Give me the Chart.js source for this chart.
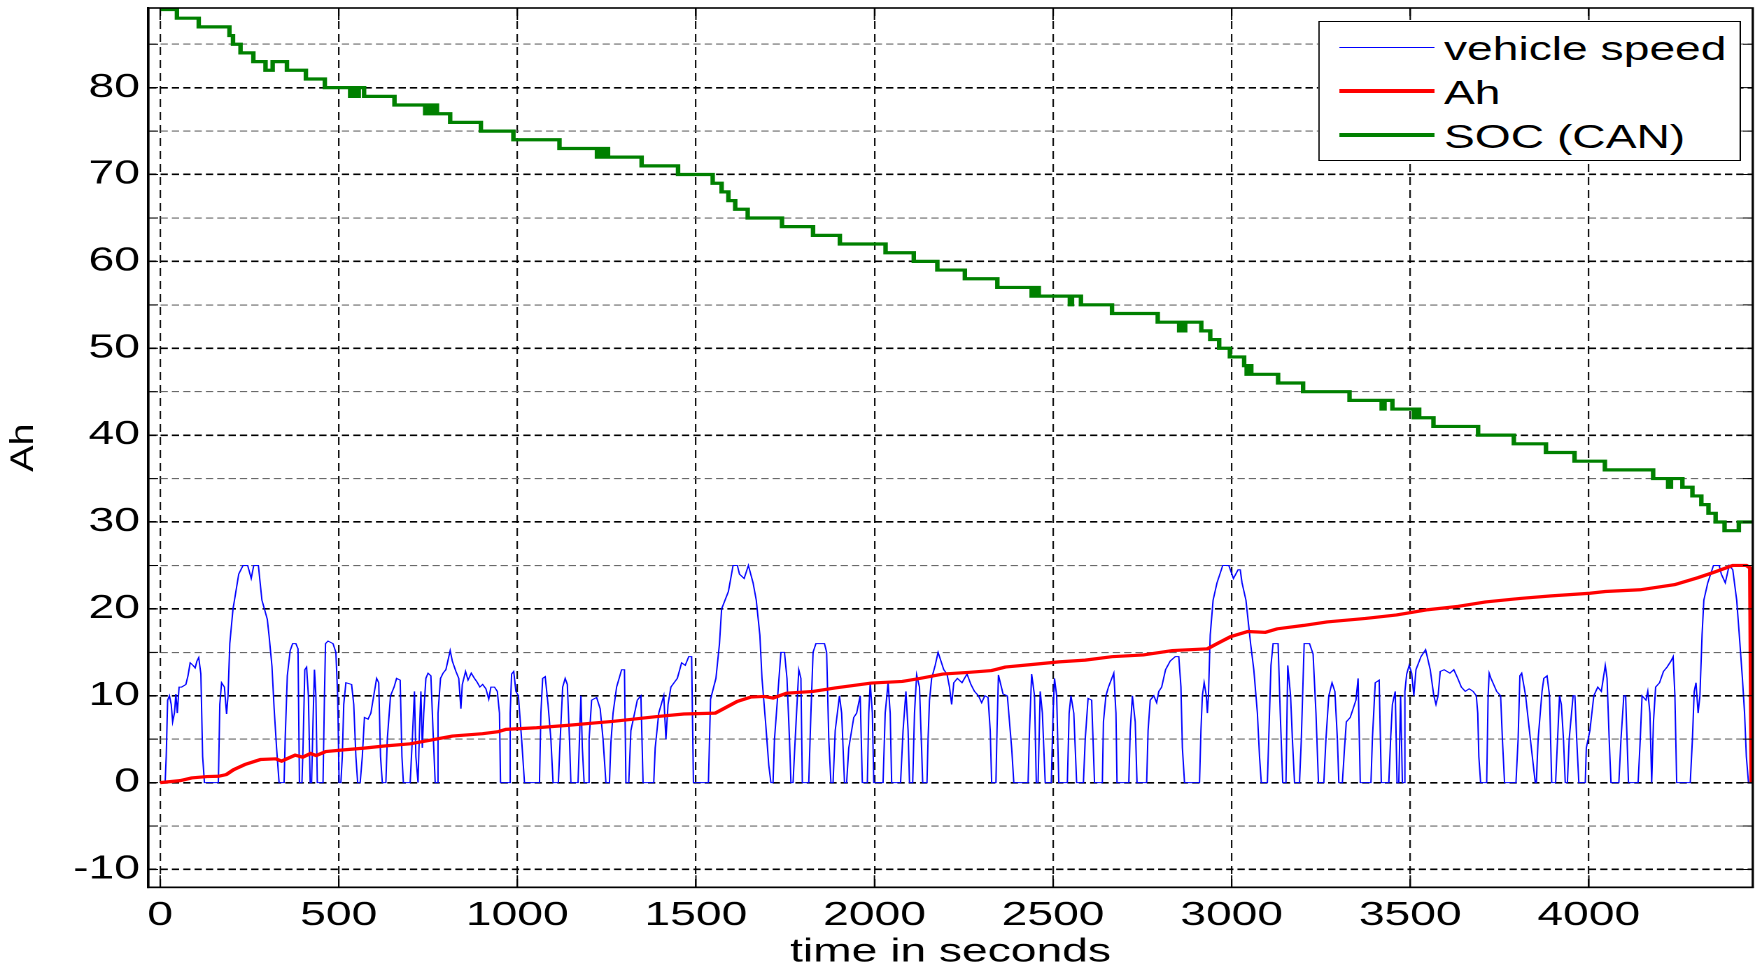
<!DOCTYPE html>
<html>
<head>
<meta charset="utf-8">
<title>vehicle speed, Ah, SOC</title>
<script src="https://cdn.jsdelivr.net/npm/chart.js@4.4.1/dist/chart.umd.min.js"></script>
<style>
  html, body { margin: 0; padding: 0; background: #fff; overflow: hidden; }
  /* the original figure uses a wide font, so the whole plot is drawn narrower and stretched */
  #wrap { position: absolute; left: 0; top: 0; width: 1254px; height: 969px; transform: scaleX(1.39952); transform-origin: 0 0; }
  #legend { position: absolute; left: 941.8px; top: 21px; width: 300px; height: 138px; border: 1px solid #000; background: #fff;
            font-family: "Liberation Sans", Arial, sans-serif; font-size: 33px; color: #000; }
  .row { position: absolute; left: 0; width: 100%; height: 44px; }
  .swatch { position: absolute; left: 14px; width: 68px; }
  .label { position: absolute; left: 89px; top: 0; line-height: 44px; white-space: nowrap; }
</style>
</head>
<body>
<div id="wrap">
  <canvas id="myChart"></canvas>
  <div id="legend"></div>
</div>
<script>
var S = 1755 / 1254;

// axis ticks
var xTicks = [0, 500, 1000, 1500, 2000, 2500, 3000, 3500, 4000];
var yTicks = [-10, 0, 10, 20, 30, 40, 50, 60, 70, 80];
var yGrid = [-10, -5, 0, 5, 10, 15, 20, 25, 30, 35, 40, 45, 50, 55, 60, 65, 70, 75, 80, 85];

// vehicle speed [time, value]
var speed = [
  [0,0],[14,0],[17,3],[21,9.5],[26,10],[31,9],[35,7],[40,8],[44,10.2],[48,8],[53,11],[60,11],[72,11.3],[78,12.3],[84,13.8],[92,13.5],[98,13.2],[103,14],[108,14.4],[114,12.5],[119,3],[124,0],
  [163,0],[167,9],[172,11.5],[180,11],[186,7.9],[190,10],[195,16],[204,20],[212,22],[220,24],[232,25],[245,25],[255,23.5],[262,25],[275,25],[285,21],[300,18.8],[305,16.9],[313,13.4],[319,8.6],[326,4],[333,0],
  [347,0],[350,5],[356,12.3],[364,15.2],[371,16],[380,16],[386,15.4],[390,0],
  [397,0],[400,4],[405,13],[410,13.3],[415,10],[420,0],
  [424,0],[428,7],[432,13],[436,10],[440,0],
  [456,0],[460,10],[463,16],[470,16.3],[484,16],[492,15],[497,10],[501,0],
  [506,0],[510,3],[514,9],[520,11.5],[536,11.3],[542,9],[548,3],[553,0],
  [560,0],[566,3],[572,7.5],[582,7.3],[590,8],[598,10],[606,12],[612,11.5],[617,3],[622,0],
  [632,0],[636,5],[645,10],[655,11],[662,12],[672,11.8],[677,3],[681,0],
  [700,0],[706,5],[712,10.5],[716,3],[722,0],[726,6],[730,10.5],[734,4],[738,8],[744,12],[750,12.6],[758,12.3],[764,6],[770,0],
  [775,0],[778,8],[785,12],[792,12.6],[800,13],[812,15.2],[818,14],[828,12.8],[836,12],[842,8.5],[846,11.3],[855,12.8],[862,11.8],[871,12.6],[880,12],[887,11.6],[895,11],[903,11.3],[912,10.8],[920,9.6],[926,11],[936,11],[944,10.5],[950,8],[953,0],
  [978,0],[980,8],[984,12.5],[990,12.8],[996,10.5],[1003,10],[1012,5],[1020,0],
  [1062,0],[1066,8],[1071,12],[1078,12.2],[1086,9],[1094,5],[1100,0],
  [1115,0],[1120,5],[1127,11],[1134,12],[1140,11.3],[1146,5],[1150,0],
  [1170,0],[1174,5],[1178,10],[1182,4],[1187,0],
  [1198,0],[1201,5],[1208,9.5],[1222,9.8],[1232,8.5],[1240,5],[1248,0],
  [1258,0],[1262,4.6],[1268,8],[1278,11],[1292,13],[1300,13],[1304,0],
  [1312,0],[1318,6],[1336,9.5],[1346,10],[1352,0],
  [1382,0],[1386,4],[1396,8],[1410,10],[1416,5],[1422,9],[1430,11],[1448,12],[1460,13.8],[1470,13.5],[1480,14.5],[1488,14.5],[1493,0],
  [1535,0],[1541,9.6],[1556,12],[1566,16],[1572,20],[1591,22],[1604,25],[1616,25],[1622,24],[1635,23.5],[1647,25],[1660,23],[1669,21],[1679,17],[1685,12],[1695,7],[1704,2],[1710,0],
  [1716,0],[1720,5],[1729,10],[1738,15],[1748,15],[1755,12],[1762,5],[1766,0],
  [1772,0],[1778,5],[1788,13],[1794,12],[1798,0],
  [1816,0],[1822,8],[1828,15],[1836,16],[1860,16],[1866,15],[1872,5],[1878,0],
  [1884,0],[1890,6],[1902,10],[1908,8],[1916,0],
  [1922,0],[1928,4],[1942,7.5],[1950,8],[1960,10],[1966,0],
  [1980,0],[1984,8],[1988,11.5],[1994,8],[1998,0],
  [2024,0],[2030,8],[2038,11.5],[2044,8],[2048,0],
  [2073,0],[2080,6],[2088,10.5],[2094,6],[2098,0],
  [2107,0],[2112,8],[2118,12.4],[2126,11],[2131,5],[2135,0],
  [2147,0],[2150,5],[2154,9.5],[2160,12],[2170,13.5],[2178,15],[2186,14],[2194,13],[2203,12.5],[2210,11],[2216,9],[2222,11.5],[2232,12],[2245,11.5],[2259,12.5],[2270,11.3],[2280,10.5],[2291,10],[2300,9.2],[2309,10],[2318,9.8],[2324,6],[2328,0],
  [2340,0],[2343,6],[2347,12.4],[2360,10.2],[2372,10],[2384,4],[2390,0],
  [2430,0],[2434,6],[2440,12.5],[2448,10],[2453,0],
  [2458,0],[2464,10.5],[2470,8],[2478,0],
  [2495,0],[2500,8],[2504,12],[2510,10],[2516,0],
  [2540,0],[2545,8],[2550,10],[2558,8],[2566,0],
  [2585,0],[2590,5],[2598,9.7],[2608,9.5],[2616,0],
  [2638,0],[2641,7],[2648,10],[2655,11],[2670,12.6],[2676,8],[2679,0],
  [2712,0],[2716,6],[2722,10],[2730,7],[2735,0],
  [2762,0],[2766,6],[2772,9.5],[2782,10],[2790,9.2],[2796,10.5],[2804,11],[2815,13],[2828,14],[2842,14.5],[2852,14.5],[2858,11],[2862,4],[2868,0],
  [2910,0],[2914,6],[2918,10],[2923,11.5],[2929,10],[2932,8],[2935,10],[2940,17],[2948,21],[2959,23],[2975,25],[2992,25],[3005,23.5],[3018,24.5],[3024,24.5],[3029,23],[3040,21],[3053,16],[3062,13],[3072,8],[3078,3],[3083,0],
  [3100,0],[3103,4],[3110,13.5],[3116,16],[3130,16],[3136,8],[3143,0],
  [3152,0],[3157,13.5],[3165,10],[3170,5],[3176,0],
  [3190,0],[3195,5],[3203,16],[3218,16],[3228,14.8],[3236,8],[3243,0],
  [3258,0],[3264,5],[3272,10],[3281,11.5],[3289,10.5],[3296,5],[3300,0],
  [3310,0],[3316,4],[3321,7],[3332,7.5],[3348,9.5],[3354,12],[3360,0],
  [3390,0],[3394,5],[3402,11.5],[3413,11.8],[3419,0],
  [3440,0],[3445,5],[3450,9],[3458,10.5],[3463,0],[3468,0],[3473,10],[3478,0],
  [3482,0],[3485,10.5],[3490,12.5],[3497,13.5],[3504,12.6],[3510,10],[3516,13],[3530,14.5],[3543,15.3],[3556,13],[3566,10],[3572,9],[3578,10],[3584,12.8],[3595,13],[3611,12.6],[3622,13],[3633,12],[3643,11],[3654,10.5],[3665,10.8],[3676,10.5],[3685,10],[3689,8],[3692,3],[3697,0],
  [3714,0],[3718,10],[3721,12.6],[3726,12],[3742,10.5],[3753,10],[3758,5],[3764,0],
  [3796,0],[3802,5],[3807,12.3],[3812,12.6],[3823,10],[3839,4],[3850,0],
  [3853,0],[3858,5],[3869,10.5],[3874,12],[3883,12.3],[3890,10],[3896,0],
  [3907,0],[3918,10],[3923,9],[3929,5],[3934,0],
  [3940,0],[3945,5],[3956,10],[3961,10],[3966,5],[3972,0],
  [3990,0],[3993,4],[4003,6],[4014,10],[4025,11],[4035,10.5],[4046,13.5],[4051,12],[4057,5],[4062,0],
  [4084,0],[4090,5],[4098,10],[4103,10],[4111,0],
  [4138,0],[4144,5],[4149,10],[4160,9.5],[4165,10.5],[4171,8],[4176,0],
  [4178,0],[4181,7],[4187,11],[4198,11.5],[4209,12.8],[4219,13.3],[4230,14],[4236,14.5],[4241,10],[4246,0],
  [4284,0],[4290,5],[4295,10.5],[4300,11.5],[4306,8],[4311,10],[4317,17],[4322,21],[4333,23],[4349,25],[4365,25],[4371,24],[4382,23],[4393,25],[4403,24.5],[4414,21],[4423,16],[4430,12],[4436,8],[4441,3],[4447,0],[4459,0]
];

// Ah [time, value]
var ah = [
  [0,0],[56,0.23],[88,0.54],[131,0.7],[163,0.73],[185,0.92],[206,1.5],[238,2.1],[281,2.66],[324,2.74],[340,2.47],[378,3.16],[399,2.93],[421,3.35],[437,3.12],[464,3.58],
  [506,3.74],[571,3.97],[624,4.2],[700,4.47],[743,4.78],[818,5.36],[903,5.63],[946,5.86],[968,6.13],[1054,6.32],[1140,6.59],[1225,6.9],[1266,7.04],[1391,7.6],[1466,7.9],
  [1554,8.0],[1616,9.35],[1654,9.85],[1691,9.92],[1716,9.73],[1754,10.3],[1828,10.5],[1890,10.9],[1991,11.46],[2078,11.65],[2128,12.0],[2191,12.5],[2266,12.7],[2328,12.9],
  [2366,13.3],[2441,13.6],[2516,13.9],[2590,14.1],[2665,14.5],[2753,14.7],[2834,15.2],[2932,15.4],[2964,16.1],[2997,16.8],[3045,17.4],[3094,17.3],[3127,17.7],[3202,18.1],
  [3267,18.5],[3375,18.9],[3462,19.3],[3549,19.9],[3635,20.3],[3711,20.8],[3808,21.2],[3895,21.5],[4003,21.8],[4046,22.0],[4144,22.2],[4241,22.8],[4306,23.6],[4349,24.2],
  [4403,25.0],[4441,25.0],[4452,24.7],[4456,0]
];

// SOC (CAN) [time, value], holds until the next point
var soc = [
  [0,89],[47,88],[108,87],[194,86],[204,85],[225,84],[261,83],[295,82],[315,83],[355,82],[408,81],[461,80],[532,79],[540,80],[548,79],[556,80],[571,79],
  [656,78],[742,77],[752,78],[760,77],[768,78],[775,77],[812,76],[898,75],[989,74],[1118,73],[1223,72],[1230,73],[1238,72],[1246,73],[1254,72],[1348,71],
  [1450,70],[1547,69],[1572,68],[1591,67],[1610,66],[1645,65],[1741,64],[1828,63],[1903,62],[2031,61],[2110,60],[2176,59],[2253,58],[2344,57],[2440,56],
  [2452,57],[2460,56],[2547,55],[2553,56],[2578,55],[2665,54],[2793,53],[2853,52],[2858,53],[2865,52],[2870,53],[2915,52],[2940,51],[2965,50],[2995,49],
  [3035,48],[3042,47],[3048,48],[3055,47],[3130,46],[3200,45],[3330,44],[3420,43],[3428,44],[3450,43],[3510,42],[3516,43],[3525,42],[3565,41],[3690,40],
  [3790,39],[3880,38],[3960,37],[4045,36],[4180,35],[4222,34],[4230,35],[4262,34],[4290,33],[4315,32],[4335,31],[4355,30],[4380,29],[4420,30],[4459,30]
];

var FONT = "'Liberation Sans', Arial, sans-serif";
Chart.defaults.font.family = FONT;
Chart.defaults.font.size = 33;
Chart.defaults.color = "#000";

// box round the axes, inward tick marks and the rotated y label
var framePlugin = {
  id: "frame",
  afterDraw: function (chart) {
    var ctx = chart.ctx;
    var a = chart.chartArea;
    var xs = chart.scales.x;
    var ys = chart.scales.y;
    ctx.save();
    ctx.strokeStyle = "#000";
    ctx.lineWidth = 1;
    ctx.beginPath();
    xTicks.forEach(function (v) {
      var px = xs.getPixelForValue(v);
      ctx.moveTo(px, a.bottom); ctx.lineTo(px, a.bottom - 12);
      ctx.moveTo(px, a.top); ctx.lineTo(px, a.top + 12);
    });
    yGrid.forEach(function (v) {
      var py = ys.getPixelForValue(v);
      ctx.moveTo(a.left, py); ctx.lineTo(a.left + 7, py);
      ctx.moveTo(a.right, py); ctx.lineTo(a.right - 7, py);
    });
    ctx.stroke();
    ctx.lineWidth = 1.6;
    ctx.strokeRect(a.left, a.top, a.right - a.left, a.bottom - a.top);

    ctx.translate(17.1, (a.top + a.bottom) / 2);
    ctx.scale(1 / S, 1);
    ctx.rotate(-Math.PI / 2);
    ctx.scale(1.2, 1);
    ctx.fillStyle = "#000";
    ctx.font = "33px " + FONT;
    ctx.textAlign = "center";
    ctx.textBaseline = "middle";
    ctx.fillText("Ah", 0, 0);
    ctx.restore();
  }
};

var ctx = document.getElementById("myChart").getContext("2d");
var chart = new Chart(ctx, {
  type: "line",
  data: {
    datasets: [
      { label: "vehicle speed", data: speed, borderColor: "#0000ff", borderWidth: 1, order: 3 },
      { label: "Ah", data: ah, borderColor: "#ff0000", borderWidth: 3.2, order: 1 },
      { label: "SOC (CAN)", data: soc, borderColor: "#008000", borderWidth: 3.2, stepped: true, order: 2 }
    ]
  },
  options: {
    responsive: true,
    maintainAspectRatio: false,
    devicePixelRatio: 2,
    animation: false,
    layout: { padding: { left: 0, right: 1.6, top: 8, bottom: 0 } },
    elements: { point: { radius: 0 }, line: { tension: 0 } },
    plugins: { legend: { display: false }, tooltip: { enabled: false } },
    scales: {
      x: {
        type: "linear",
        min: -33,
        max: 4459,
        afterBuildTicks: function (s) { s.ticks = xTicks.map(function (v) { return { value: v }; }); },
        afterFit: function (s) { s.height = 81.7; s.paddingLeft = 0; s.paddingRight = 0; },
        ticks: {
          autoSkip: false,
          maxRotation: 0,
          padding: 9,
          color: "#000",
          callback: function (v) { return String(v); }
        },
        grid: { color: "#111", lineWidth: 1.1, drawTicks: false },
        border: { display: true, color: "#000", width: 1.6, dash: [8, 5] },
        title: { display: true, text: "time in seconds", color: "#000", font: { size: 33, lineHeight: 1 }, padding: { top: 0, bottom: 0 } }
      },
      y: {
        type: "linear",
        min: -12.05,
        max: 89.17,
        afterBuildTicks: function (s) { s.ticks = yGrid.map(function (v) { return { value: v }; }); },
        afterFit: function (s) { s.width = 106; s.paddingTop = 0; s.paddingBottom = 0; },
        ticks: {
          autoSkip: false,
          padding: 6,
          color: "#000",
          callback: function (v) { return yTicks.indexOf(v) >= 0 ? String(v) : ""; }
        },
        grid: {
          drawTicks: false,
          lineWidth: function (c) { return yTicks.indexOf(c.tick.value) >= 0 ? 1.6 : 1.1; },
          color: function (c) { return yTicks.indexOf(c.tick.value) >= 0 ? "#000" : "#6a6a6a"; }
        },
        border: { display: true, color: "#000", width: 1.6, dash: [5.2, 2.9] }
      }
    }
  },
  plugins: [framePlugin]
});

// legend box in the upper right corner, built from the datasets
var legendBox = document.getElementById("legend");
chart.data.datasets.forEach(function (ds, i) {
  var row = document.createElement("div");
  row.className = "row";
  row.style.top = (5 + 44 * i) + "px";
  var sw = document.createElement("div");
  sw.className = "swatch";
  sw.style.height = ds.borderWidth + "px";
  sw.style.top = (20 - ds.borderWidth / 2) + "px";
  sw.style.background = ds.borderColor;
  var lab = document.createElement("span");
  lab.className = "label";
  lab.innerText = ds.label;
  row.appendChild(sw);
  row.appendChild(lab);
  legendBox.appendChild(row);
});
</script>
</body>
</html>
